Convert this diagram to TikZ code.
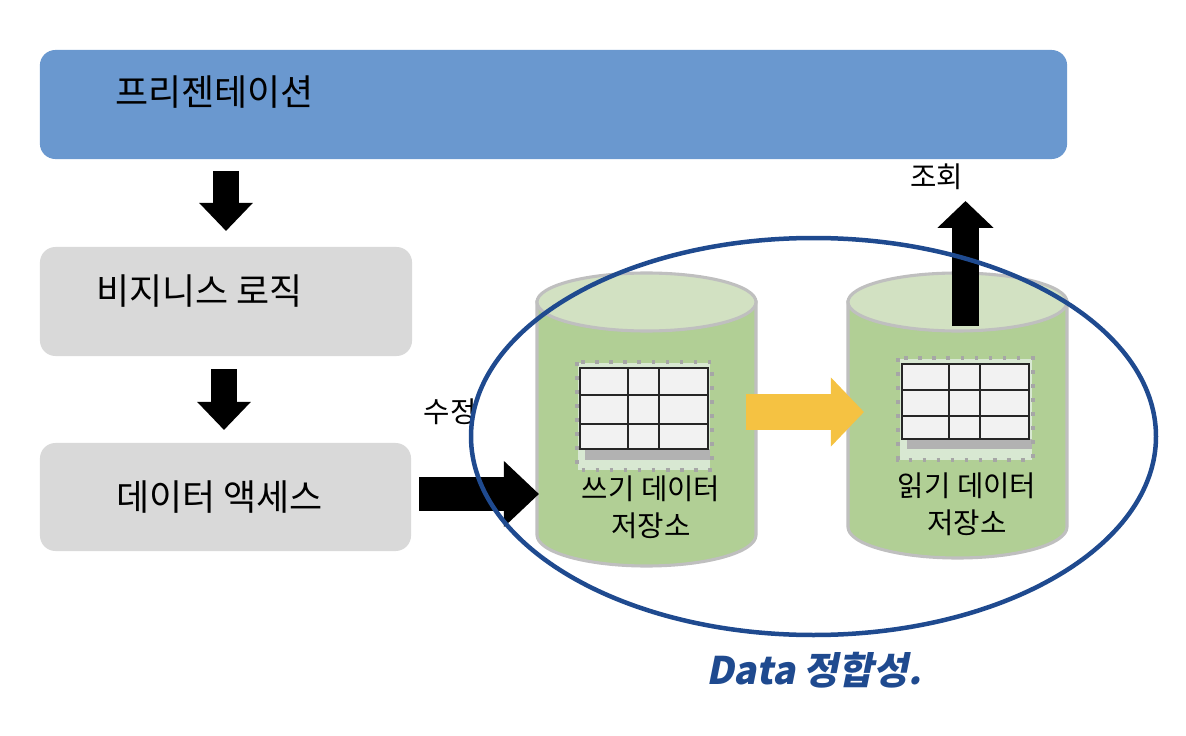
\documentclass[tikz,border=0pt]{standalone}
\usepackage{fontspec}
\setmainfont{Noto Sans CJK KR}
\newfontfamily\handfont[FakeSlant=0.2]{Noto Sans CJK KR}
\usetikzlibrary{arrows.meta}

\definecolor{presblue}{HTML}{6A98CF}
\definecolor{boxgray}{HTML}{D9D9D9}
\definecolor{cylgreen}{HTML}{B1CF95}
\definecolor{cyltop}{HTML}{D2E1C2}
\definecolor{cylline}{HTML}{BFBFBF}
\definecolor{copyyellow}{HTML}{F5C242}
\definecolor{inkblue}{HTML}{1F4A8F}
\definecolor{tablepale}{HTML}{D8E8D2}

\tikzset{
    layerbox/.style={rounded corners=11pt, inner sep=0pt},
    bigtext/.style={font=\fontsize{25.6}{30}\selectfont, inner sep=0pt},
    smalltext/.style={font=\fontsize{20.4}{26.5}\selectfont, inner sep=0pt, align=center},
    blockarrow/.style n args={3}{line width=#1, -{Triangle[length=#3, width=#2]}},
    cylbody/.style={draw=cylline, line width=2.2pt, fill=cylgreen},
    cyllid/.style={draw=cylline, line width=2.2pt, fill=cyltop},
    tablecell/.style={fill=black!5},
    tableline/.style={draw=black!85, line width=1.4pt},
    tabledots/.style={draw=black!35, line width=2.4pt, dash pattern=on 2.6pt off 7.4pt}
}

\begin{document}
\begin{tikzpicture}[x=0.025cm, y=-0.025cm]
    \useasboundingbox (0, 0) rectangle (1186, 736);

    % boxes on the left
    \node [layerbox, fill=presblue, minimum width=25.675cm, minimum height=2.725cm] (pres) at (553.5, 104.5) {};
    \node [layerbox, fill=boxgray, minimum width=9.3cm, minimum height=2.725cm] (logic) at (226, 301.5) {};
    \node [layerbox, fill=boxgray, minimum width=9.275cm, minimum height=2.7cm] (access) at (225.5, 497) {};
    \node [bigtext] (prestext) at (214.5, 92) {프리젠테이션};
    \node [bigtext] (logictext) at (199.5, 291) {비지니스 로직};
    \node [bigtext] (accesstext) at (219.5, 497) {데이터 액세스};

    % write store
    \begin{scope}[]
        \draw[cylbody] (537, 302) -- (537, 535) arc [start angle=180, end angle=0, x radius=109.5, y radius=31] -- (756, 302) -- cycle;
        \draw[cyllid] (646.5, 302) ellipse [x radius=109.5, y radius=29];
        \fill[tablepale] (578, 363) rectangle (710, 470);
        \fill[black!30] (585, 449) rectangle (710, 460);
        \draw[tabledots] (577, 362) rectangle (712, 470);
        \fill[tablecell] (580, 368) rectangle (708, 449);
        \draw[tableline] (580, 368) rectangle (708, 449);
        \draw[tableline] (628, 368) -- (628, 449);
        \draw[tableline] (659, 368) -- (659, 449);
        \draw[tableline] (580, 395) -- (708, 395);
        \draw[tableline] (580, 424) -- (708, 424);
        \node [smalltext] (writetext) at (651, 507) {쓰기 데이터\\저장소};
    \end{scope}

    % read store
    \begin{scope}[]
        \draw[cylbody] (848, 302) -- (848, 527) arc [start angle=180, end angle=0, x radius=109.5, y radius=31] -- (1067, 302) -- cycle;
        \draw[cyllid] (957.5, 302) ellipse [x radius=109.5, y radius=29];
        \fill[tablepale] (900, 359) rectangle (1032, 460);
        \fill[black!30] (907, 439) rectangle (1032, 449);
        \draw[tabledots] (898, 358) rectangle (1033, 460);
        \fill[tablecell] (902, 364) rectangle (1029, 439);
        \draw[tableline] (902, 364) rectangle (1029, 439);
        \draw[tableline] (949, 364) -- (949, 439);
        \draw[tableline] (980, 364) -- (980, 439);
        \draw[tableline] (902, 390) -- (1029, 390);
        \draw[tableline] (902, 416) -- (1029, 416);
        \node [smalltext] (readtext) at (967, 504) {읽기 데이터\\저장소};
    \end{scope}

    % arrows
    \coordinate (logicin) at (226, 231);
    \coordinate (presout) at (226, 171);
    \coordinate (accessin) at (224, 430);
    \coordinate (logicout) at (224, 369);
    \coordinate (accessout) at (419, 494);
    \coordinate (writein) at (539, 494);
    \coordinate (writeout) at (746, 412);
    \coordinate (readin) at (864, 412);
    \coordinate (readout) at (965.5, 326);
    \coordinate (queryend) at (965.5, 201);
    \draw[blockarrow={18.5pt}{37pt}{20pt}] (presout) -- (logicin);
    \draw[blockarrow={18.5pt}{37pt}{20pt}] (logicout) -- (accessin);
    \draw[blockarrow={24.2pt}{45.5pt}{25pt}] (accessout) -- (writein);
    \draw[blockarrow={25.6pt}{47.7pt}{23.5pt}, copyyellow] (writeout) -- (readin);
    \draw[blockarrow={19.2pt}{39pt}{19.2pt}] (readout) -- (queryend);

    \node [smalltext] (updatetext) at (450, 412) {수정};
    \node [smalltext] (querytext) at (936.5, 177) {조회};

    \draw[inkblue, line width=3.2pt] (813.5, 436.5) ellipse [x radius=342.5, y radius=198.5];
    \node [inner sep=0pt, text=inkblue, font=\handfont\bfseries\fontsize{27}{30}\selectfont] (handtext) at (814, 670) {Data 정합성.};
\end{tikzpicture}
\end{document}
